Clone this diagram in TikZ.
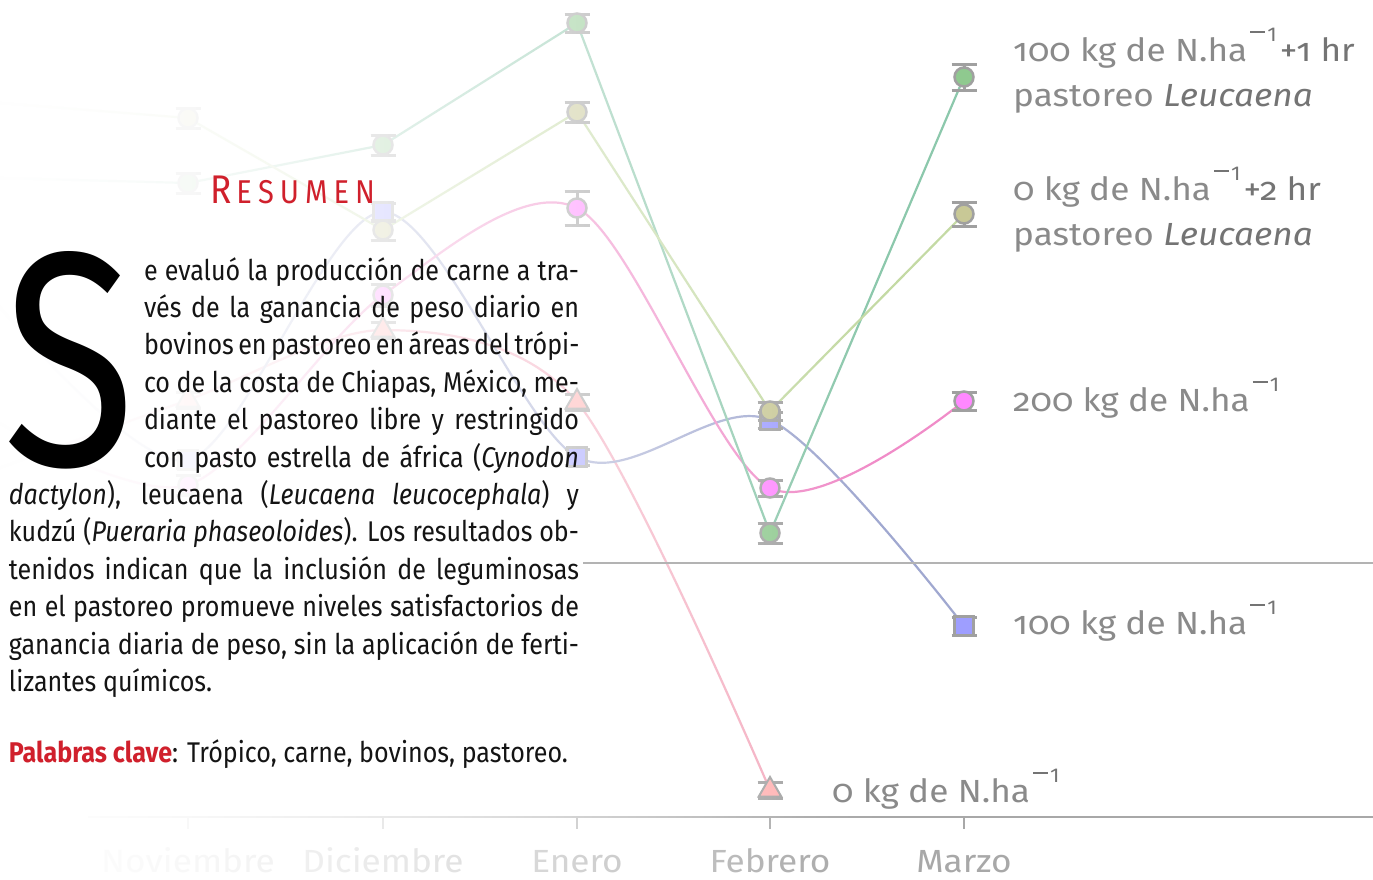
\documentclass[tikz,border=0pt]{standalone}
\usepackage{fontspec}
\setmainfont{Fira Sans}[FakeStretch=0.88]
\newfontfamily\labfont{Fira Sans}[FakeStretch=1.1, Numbers=OldStyle]
\usepackage{graphicx}
\usetikzlibrary{shapes.geometric}
\definecolor{cGreenL}{HTML}{8CC8AC}
\definecolor{cGreenF}{HTML}{8FC98F}
\definecolor{cOliveL}{HTML}{C4DAA4}
\definecolor{cOliveF}{HTML}{C8C896}
\definecolor{cPinkL}{HTML}{F08CC8}
\definecolor{cPinkF}{HTML}{FF88FF}
\definecolor{cBlueL}{HTML}{A0A8D0}
\definecolor{cBlueF}{HTML}{9E9EFF}
\definecolor{cTriL}{HTML}{F4A8BC}
\definecolor{cTriF}{HTML}{FFB0B0}
\definecolor{cMark}{HTML}{A0A0A0}
\definecolor{cRed}{HTML}{D0202C}
\definecolor{cLab}{HTML}{8A8A8A}
\definecolor{cLabD}{HTML}{747474}
\definecolor{cAxis}{HTML}{A8A8A8}
\definecolor{cText}{HTML}{141414}
\newcommand\supm{\kern3pt\textcolor{cLabD}{\rule[28pt]{15pt}{1.6pt}\kern2pt\raisebox{20pt}{\fontsize{20}{20}\selectfont\addfontfeatures{Numbers=Lining}1}}\kern3pt}
\newcommand\mk[6]{%
  \draw[errst] (#2-12.5,#3-#4) -- (#2+12.5,#3-#4) (#2-12.5,#3+#4) -- (#2+12.5,#3+#4) (#2,#3-#4) -- (#2,#3+#4);
  \node[#5, fill=#6] (#1) at (#2,#3) {};}
\begin{document}
\begin{tikzpicture}[x=1pt,y=-1pt,
  errst/.style={draw=cMark, line width=3pt},
  mcirc/.style={circle, draw=cMark, line width=2.5pt, minimum size=19pt, inner sep=0pt},
  msq/.style={rectangle, draw=cMark, line width=2.5pt, minimum size=19pt, inner sep=0pt},
  mtri/.style={regular polygon, regular polygon sides=3, draw=cMark, line width=2pt, minimum size=26pt, inner sep=0pt},
  sline/.style={line width=2.2pt, line join=round},
  axisline/.style={draw=cAxis, line width=1.2pt},
  body/.style={anchor=base west, inner sep=0pt, outer sep=0pt, text=cText, font=\fontsize{28.5}{33}\selectfont},
  lab/.style={anchor=base west, inner sep=0pt, text=cLab, font=\labfont\fontsize{32}{38}\selectfont},
  axlab/.style={anchor=base, inner sep=0pt, text=cAxis, font=\labfont\fontsize{32}{38}\selectfont}]
\useasboundingbox (0,0) rectangle (1373,879);
\fill[white] (0,0) rectangle (1373,879);

% ---------- axis ----------
\draw[axisline] (88,817) -- (1373,817);
\foreach \x in {188,383,577,770,964} \draw[axisline] (\x,817) -- (\x,829);
\node[axlab] (xNov) at (188,872) {Noviembre};
\node[axlab] (xDic) at (383,872) {Diciembre};
\node[axlab] (xEne) at (577,872) {Enero};
\node[axlab] (xFeb) at (770,872) {Febrero};
\node[axlab] (xMar) at (964,872) {Marzo};

% ---------- series lines ----------
\draw[sline, draw=cTriL] plot[smooth] coordinates {(-6,470) (188,400) (383,330) (577,402) (770,790)};
\draw[sline, draw=cBlueL] plot[smooth] coordinates {(-6,300) (188,460) (383,212) (577,457) (770,420) (964,626)};
\draw[sline, draw=cPinkL] plot[smooth] coordinates {(-6,420) (188,485) (383,295) (577,208) (770,488) (964,401)};
\draw[sline, draw=cGreenL] (0,178) -- (188,183) -- (383,145) -- (577,23) -- (770,533) -- (964,77);
\draw[sline, draw=cOliveL] (0,103) -- (188,118) -- (383,230) -- (577,112) -- (770,411) -- (964,214);

% ---------- markers ----------
\mk{t1}{188}{400}{8}{mtri}{cTriF}
\mk{t2}{383}{330}{8}{mtri}{cTriF}
\mk{t3}{577}{402}{8}{mtri}{cTriF}
\mk{t4}{770}{790}{8}{mtri}{cTriF}
\mk{s1}{188}{460}{8}{msq}{cBlueF}
\mk{s2}{383}{212}{9}{msq}{cBlueF}
\mk{s3}{577}{457}{8}{msq}{cBlueF}
\mk{s4}{770}{420}{8}{msq}{cBlueF}
\mk{s5}{964}{626}{9}{msq}{cBlueF}
\mk{p1}{188}{485}{10}{mcirc}{cPinkF}
\mk{p2}{383}{295}{11}{mcirc}{cPinkF}
\mk{p3}{577}{208}{17}{mcirc}{cPinkF}
\mk{p4}{770}{488}{8}{mcirc}{cPinkF}
\mk{p5}{964}{401}{9}{mcirc}{cPinkF}
\mk{g1}{188}{183}{10}{mcirc}{cGreenF}
\mk{g2}{383}{145}{10}{mcirc}{cGreenF}
\mk{g3}{577}{23}{9}{mcirc}{cGreenF}
\mk{g4}{770}{533}{10}{mcirc}{cGreenF}
\mk{g5}{964}{77}{13}{mcirc}{cGreenF}
\mk{o1}{188}{118}{10}{mcirc}{cOliveF}
\mk{o2}{383}{230}{10}{mcirc}{cOliveF}
\mk{o3}{577}{112}{10}{mcirc}{cOliveF}
\mk{o4}{770}{411}{9}{mcirc}{cOliveF}
\mk{o5}{964}{214}{12}{mcirc}{cOliveF}

% ---------- fade towards the left ----------
\foreach \i in {0,...,219}{
  \pgfmathsetmacro\xx{\i*4+2}
  \pgfmathsetmacro\op{1-(1-0.95*max(0,1-\xx/880))*(1-0.9*max(0,1-\xx/800))}
  \fill[white, fill opacity=\op] (\i*4,0) rectangle (\i*4+4,879);
}

\draw[draw=cMark!80, line width=1.2pt] (583,563) -- (1373,563);

% ---------- legend labels ----------
\node[lab] (l1a) at (1013,61) {100 kg de N.ha\supm\textcolor{cLabD}{+1 hr}};
\node[lab] (l1b) at (1013,106) {pastoreo \textcolor{cLabD}{\itshape Leucaena}};
\node[lab] (l2a) at (1013,200) {0 kg de N.ha\supm\textcolor{cLabD}{+2 hr}};
\node[lab] (l2b) at (1013,245) {pastoreo \textcolor{cLabD}{\itshape Leucaena}};
\node[lab] (l3) at (1013,411) {200 kg de N.ha\supm};
\node[lab] (l4) at (1013,634) {100 kg de N.ha\supm};
\node[lab] (l5) at (832,802) {0 kg de N.ha\supm};

% ---------- abstract ----------
\node[anchor=base west, inner sep=0pt, text=cRed] (res) at (210,203.5)
  {\fontsize{40}{40}\selectfont R\kern5pt\fontsize{33}{33}\selectfont E\kern6pt S\kern6pt U\kern6pt M\kern6pt E\kern6pt N};
\node[anchor=south west, inner sep=0pt] (dropS) at (3,469)
  {\resizebox{132pt}{214pt}{\fontsize{100}{100}\selectfont S}};
\node[body] (b1) at (144,280) {\makebox[435pt][s]{e evaluó la producción de carne a tra-}};
\node[body] (b2) at (144,317.4) {\makebox[435pt][s]{vés de la ganancia de peso diario en}};
\node[body] (b3) at (144,354.8) {\makebox[435pt][s]{bovinos en pastoreo en áreas del trópi-}};
\node[body] (b4) at (144,392.2) {\makebox[435pt][s]{co de la costa de Chiapas, México, me-}};
\node[body] (b5) at (144,429.6) {\makebox[435pt][s]{diante el pastoreo libre y restringido}};
\node[body] (b6) at (144,467) {\makebox[435pt][s]{con pasto estrella de áfrica (\textit{Cynodon}}};
\node[body] (b7) at (9,504.4) {\makebox[570pt][s]{\textit{dactylon}), leucaena (\textit{Leucaena leucocephala}) y}};
\node[body] (b8) at (9,541.8) {\makebox[570pt][s]{kudzú (\textit{Pueraria phaseoloides}). Los resultados ob-}};
\node[body] (b9) at (9,579.2) {\makebox[570pt][s]{tenidos indican que la inclusión de leguminosas}};
\node[body] (b10) at (9,616.6) {\makebox[570pt][s]{en el pastoreo promueve niveles satisfactorios de}};
\node[body] (b11) at (9,654) {\makebox[570pt][s]{ganancia diaria de peso, sin la aplicación de ferti-}};
\node[body] (b12) at (9,691.4) {lizantes químicos.};
\node[body] (kw) at (9,762) {\textcolor{cRed}{\bfseries Palabras clave}: Trópico, carne, bovinos, pastoreo.};
\end{tikzpicture}
\end{document}
